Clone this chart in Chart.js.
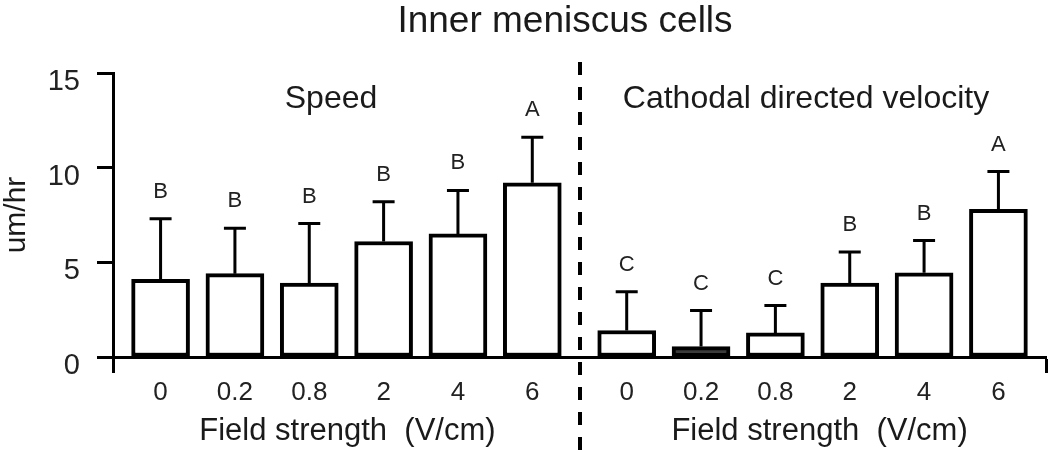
<!DOCTYPE html>
<html>
<head>
<meta charset="utf-8">
<script src="https://cdn.jsdelivr.net/npm/chart.js@4"></script>
<style>
  html, body { margin: 0; padding: 0; background: #fff; }
  #wrap { width: 1050px; height: 452px; }
</style>
</head>
<body>
<div id="wrap"><canvas id="chart" width="1050" height="452"></canvas></div>
<script>
// field strengths (V/cm), same for both panels
const fieldLabels = ['0', '0.2', '0.8', '2', '4', '6'];

// Speed (um/hr)
const speedMean = [4.1, 4.4, 3.9, 6.1, 6.5, 9.2];
const speedSD = [3.2, 2.4, 3.15, 2.1, 2.3, 2.4];
const speedGroups = ['B', 'B', 'B', 'B', 'B', 'A'];

// Cathodal directed velocity (um/hr)
const velMean = [1.4, 0.55, 1.27, 3.9, 4.45, 7.8];
const velSD = [2.05, 1.9, 1.45, 1.65, 1.7, 2.0];
const velGroups = ['C', 'C', 'C', 'B', 'B', 'A'];

const yTicks = [0, 5, 10, 15];

const FONT = '"Liberation Sans", Arial, sans-serif';
const groupOffset = 6.27;   // second panel starts after a wider gap

const speedPts = speedMean.map((v, i) => ({x: i, y: v}));
const velPts = velMean.map((v, i) => ({x: i + groupOffset, y: v}));
const tickPos = fieldLabels.map((l, i) => i).concat(fieldLabels.map((l, i) => i + groupOffset));

const decorations = {
    id: 'decorations',
    afterDatasetsDraw(chart) {
        const ctx = chart.ctx;
        const xs = chart.scales.x, ys = chart.scales.y;
        const sets = [[speedMean, speedSD, speedGroups], [velMean, velSD, velGroups]];

        ctx.save();
        sets.forEach((s, di) => {
            const meta = chart.getDatasetMeta(di);
            meta.data.forEach((bar, i) => {
                const top = ys.getPixelForValue(s[0][i] + s[1][i]);
                ctx.strokeStyle = '#000';
                ctx.lineWidth = 3;
                ctx.beginPath();
                ctx.moveTo(bar.x, bar.y);
                ctx.lineTo(bar.x, top);
                ctx.moveTo(bar.x - 11, top);
                ctx.lineTo(bar.x + 11, top);
                ctx.stroke();

                ctx.fillStyle = '#222';
                ctx.font = '22px ' + FONT;
                ctx.textAlign = 'center';
                ctx.textBaseline = 'middle';
                ctx.fillText(s[2][i], bar.x, top - 27);
            });
        });

        // dashed divider between the two panels
        const dx = Math.round(xs.getPixelForValue((5 + groupOffset) / 2));
        ctx.strokeStyle = '#000';
        ctx.lineWidth = 4;
        ctx.setLineDash([13, 12]);
        ctx.beginPath();
        ctx.moveTo(dx, 62);
        ctx.lineTo(dx, 452);
        ctx.stroke();
        ctx.setLineDash([]);

        // texts
        ctx.fillStyle = '#1a1a1a';
        ctx.textBaseline = 'alphabetic';
        ctx.textAlign = 'center';
        ctx.font = '37px ' + FONT;
        ctx.fillText('Inner meniscus cells', 565, 32);

        ctx.font = '32px ' + FONT;
        ctx.fillText('Speed', 331, 108);
        ctx.fillText('Cathodal directed velocity', 806, 108);

        ctx.font = '31px ' + FONT;
        ctx.fillText('Field strength  (V/cm)', xs.getPixelForValue(2.5) + 1, 440);
        ctx.fillText('Field strength  (V/cm)', xs.getPixelForValue(2.5 + groupOffset) + 7, 440);
        ctx.restore();
    }
};

new Chart(document.getElementById('chart'), {
    type: 'bar',
    data: {
        datasets: [
            {
                label: 'Speed',
                data: speedPts,
                backgroundColor: '#fff',
                borderColor: '#000',
                borderWidth: 4,
                borderSkipped: false,
                barThickness: 58,
                grouped: false
            },
            {
                label: 'Cathodal directed velocity',
                data: velPts,
                backgroundColor: velMean.map((v, i) => i === 1 ? '#3a3a3a' : '#fff'),
                borderColor: '#000',
                borderWidth: 4,
                borderSkipped: false,
                barThickness: 58,
                grouped: false
            }
        ]
    },
    options: {
        responsive: false,
        animation: false,
        layout: { padding: { top: 73, right: 2, left: 0, bottom: 0 } },
        plugins: {
            legend: { display: false },
            tooltip: { enabled: false },
            title: { display: false }
        },
        scales: {
            x: {
                type: 'linear',
                min: -0.64,
                max: 11.91,
                offset: false,
                afterBuildTicks: (scale) => {
                    scale.ticks = [scale.min].concat(tickPos, [scale.max]).map(v => ({value: v}));
                },
                afterFit: (scale) => { scale.height = 95; },
                border: { display: true, color: '#000', width: 3 },
                grid: {
                    display: true,
                    offset: false,
                    drawOnChartArea: false,
                    tickLength: 16,
                    tickWidth: 3,
                    tickColor: (c) => (c.index === 0 || c.index === tickPos.length + 1) ? '#000' : 'rgba(0,0,0,0)'
                },
                ticks: {
                    autoSkip: false,
                    maxRotation: 0,
                    padding: 4,
                    color: '#222',
                    font: { family: FONT, size: 26 },
                    callback: (v, i) => (i === 0 || i === tickPos.length + 1) ? '' : fieldLabels[(i - 1) % fieldLabels.length]
                }
            },
            y: {
                min: 0,
                max: 15,
                afterBuildTicks: (scale) => { scale.ticks = yTicks.map(v => ({value: v})); },
                afterFit: (scale) => { scale.width = 113; },
                border: { display: true, color: '#000', width: 3 },
                grid: {
                    display: true,
                    drawOnChartArea: false,
                    tickLength: 16,
                    tickWidth: 3,
                    tickColor: '#000'
                },
                ticks: {
                    padding: 17,
                    labelOffset: 9,
                    color: '#222',
                    font: { family: FONT, size: 29 }
                },
                title: {
                    display: true,
                    text: 'um/hr',
                    color: '#1a1a1a',
                    font: { family: FONT, size: 30, lineHeight: 1.1 },
                    padding: { top: 0, bottom: 0 }
                }
            }
        }
    },
    plugins: [decorations]
});
</script>
</body>
</html>
